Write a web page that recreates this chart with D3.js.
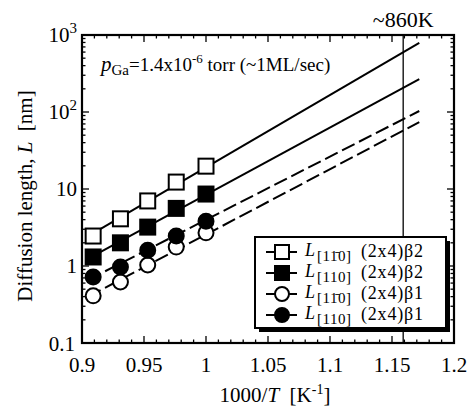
<!DOCTYPE html>
<html>
<head>
<meta charset="utf-8">
<script src="https://cdn.jsdelivr.net/npm/d3@7"></script>
<style>
body{margin:0;background:#fff;}
svg{display:block;font-family:"Liberation Serif","DejaVu Serif",serif;}
</style>
</head>
<body>
<svg id="chart" width="474" height="408"></svg>
<script>
// data: 1000/T for T = 1100,1075,1050,1025,1000 K
var invT = [0.909, 0.931, 0.953, 0.976, 1.0];
var sqOpen   = [2.45, 4.1, 7.0, 12.3, 19.8];   // L[1-10] (2x4)b2
var sqFilled = [1.31, 2.0, 3.2, 5.6, 8.6];     // L[110]  (2x4)b2
var ciOpen   = [0.41, 0.62, 1.03, 1.76, 2.7];  // L[1-10] (2x4)b1
var ciFilled = [0.72, 0.97, 1.6, 2.45, 3.8];   // L[110]  (2x4)b1

// fitted lines, two end points each
var fitX = [0.905, 1.172];
var fitSqOpen   = [2.45, 790];
var fitSqFilled = [1.25, 268];
var fitCiOpen   = [0.40, 74];
var fitCiFilled = [0.66, 103];

var xTicks = [0.9, 0.95, 1, 1.05, 1.1, 1.15, 1.2];
var xTickLabels = ["0.9", "0.95", "1", "1.05", "1.1", "1.15", "1.2"];
var yTicks = [0.1, 1, 10, 100, 1000];
var markerLine = 1000 / 862.8;   // ~860K

var series = [
	{vals: sqOpen,   fit: fitSqOpen,   shape: "square", fill: "#fff", dash: null,   bar: true,  beta: "2"},
	{vals: sqFilled, fit: fitSqFilled, shape: "square", fill: "#000", dash: null,   bar: false, beta: "2"},
	{vals: ciOpen,   fit: fitCiOpen,   shape: "circle", fill: "#fff", dash: "14,5", bar: true,  beta: "1"},
	{vals: ciFilled, fit: fitCiFilled, shape: "circle", fill: "#000", dash: "14,5", bar: false, beta: "1"}
];

var svg = d3.select("#chart");
var L = 82, R = 454, T = 35, B = 343;

var x = d3.scaleLinear().domain([0.9, 1.2]).range([L, R]);
var y = d3.scaleLog().domain([0.1, 1000]).range([B, T]);

// minor / major ticks, drawn inward on all four sides
var ax = svg.append("g").attr("stroke", "#000").attr("stroke-width", 1.3);
d3.range(0, 31).forEach(function(i){
	var v = 0.9 + i * 0.01, px = x(v), len = (i % 5 == 0) ? 7 : 3.5;
	ax.append("line").attr("x1", px).attr("x2", px).attr("y1", B).attr("y2", B - len);
	ax.append("line").attr("x1", px).attr("x2", px).attr("y1", T).attr("y2", T + len);
});
y.ticks().forEach(function(v){
	var major = yTicks.some(function(t){ return Math.abs(t - v) < 1e-9; });
	var len = major ? 7 : 3.5, py = y(v);
	ax.append("line").attr("x1", L).attr("x2", L + len).attr("y1", py).attr("y2", py);
	ax.append("line").attr("x1", R).attr("x2", R - len).attr("y1", py).attr("y2", py);
});

svg.append("rect").attr("x", L).attr("y", T).attr("width", R - L).attr("height", B - T)
	.attr("fill", "none").attr("stroke", "#000").attr("stroke-width", 2.2);

// x tick labels
svg.append("g").selectAll("text").data(xTicks).enter().append("text")
	.attr("x", function(d){ return x(d); })
	.attr("y", B + 29)
	.attr("text-anchor", "middle")
	.attr("font-size", 21)
	.text(function(d, i){ return xTickLabels[i]; });

// y tick labels
var yl = svg.append("g").attr("font-size", 21).attr("text-anchor", "end");
yTicks.forEach(function(v){
	var t = yl.append("text").attr("x", L - 5).attr("y", y(v) + 7);
	if (v >= 100) {
		t.append("tspan").text("10");
		t.append("tspan").attr("dy", -9).attr("font-size", 15).text(Math.round(Math.log10(v)));
	} else {
		t.text(v == 0.1 ? "0.1" : String(v));
	}
});
yl.selectAll("text").filter(function(d, i){ return i == 0; }).attr("y", y(0.1) + 8).attr("x", L - 7);

// axis titles
var xt = svg.append("text").attr("x", 275).attr("y", 402).attr("text-anchor", "middle").attr("font-size", 21);
xt.append("tspan").text("1000/");
xt.append("tspan").attr("font-style", "italic").text("T");
xt.append("tspan").text("\u00A0\u00A0[K");
xt.append("tspan").attr("dy", -8).attr("font-size", 14).text("-1");
xt.append("tspan").attr("dy", 8).text("]");

var yt = svg.append("text").attr("transform", "translate(32,196) rotate(-90)")
	.attr("text-anchor", "middle").attr("font-size", 21);
yt.append("tspan").text("Diffusion length, ");
yt.append("tspan").attr("font-style", "italic").text("L");
yt.append("tspan").text("\u00A0\u00A0[nm]");

// 860K marker line
svg.append("line").attr("x1", x(markerLine)).attr("x2", x(markerLine)).attr("y1", T).attr("y2", B)
	.attr("stroke", "#000").attr("stroke-width", 1.3);
svg.append("text").attr("x", x(markerLine)).attr("y", 27).attr("text-anchor", "middle")
	.attr("font-size", 22).text("~860K");

// pressure annotation
var an = svg.append("text").attr("x", 101).attr("y", 71).attr("font-size", 19);
an.append("tspan").attr("font-style", "italic").attr("font-size", 21).text("p");
an.append("tspan").attr("dy", 4).attr("font-size", 15).text("Ga");
an.append("tspan").attr("dy", -4).text("=1.4x10");
an.append("tspan").attr("dy", -8).attr("font-size", 13).text("-6");
an.append("tspan").attr("dy", 8).text(" torr (~1ML/sec)");

// fit lines
var line = d3.line().x(function(d){ return x(d[0]); }).y(function(d){ return y(d[1]); });
series.forEach(function(s){
	svg.append("path").datum(fitX.map(function(v, i){ return [v, s.fit[i]]; }))
		.attr("d", line).attr("fill", "none").attr("stroke", "#000").attr("stroke-width", 2)
		.attr("stroke-dasharray", s.dash);
});

function marker(g, shape, cx, cy, fill, size){
	if (shape == "square") {
		g.append("rect").attr("x", cx - size / 2).attr("y", cy - size / 2)
			.attr("width", size).attr("height", size)
			.attr("fill", fill).attr("stroke", "#000").attr("stroke-width", 2);
	} else {
		g.append("circle").attr("cx", cx).attr("cy", cy).attr("r", size / 2)
			.attr("fill", fill).attr("stroke", "#000").attr("stroke-width", 2);
	}
}

// data points
var pts = svg.append("g");
series.forEach(function(s){
	s.vals.forEach(function(v, i){
		marker(pts, s.shape, x(invT[i]), y(v), s.fill, 15);
	});
});

// legend with drop shadow
var lg = svg.append("g");
lg.append("rect").attr("x", 259).attr("y", 241).attr("width", 191).attr("height", 91).attr("fill", "#000");
lg.append("rect").attr("x", 255).attr("y", 237).attr("width", 191).attr("height", 91)
	.attr("fill", "#fff").attr("stroke", "#000").attr("stroke-width", 2);
series.forEach(function(s, i){
	var cy = 252 + i * 21;
	lg.append("line").attr("x1", 266).attr("x2", 297).attr("y1", cy).attr("y2", cy)
		.attr("stroke", "#000").attr("stroke-width", 2);
	marker(lg, s.shape, 282, cy, s.fill, 14);
	lg.append("text").attr("x", 305).attr("y", cy + 4).attr("font-size", 18)
		.attr("font-style", "italic").text("L");
	lg.append("text").attr("x", 317).attr("y", cy + 9).attr("font-size", 15)
		.attr("letter-spacing", 0.5).text(s.bar ? "[11\u03040]" : "[110]");
	lg.append("text").attr("x", 361).attr("y", cy + 5).attr("font-size", 18)
		.attr("letter-spacing", 0.8).text("(2x4)\u03B2" + s.beta);
});
</script>
</body>
</html>
